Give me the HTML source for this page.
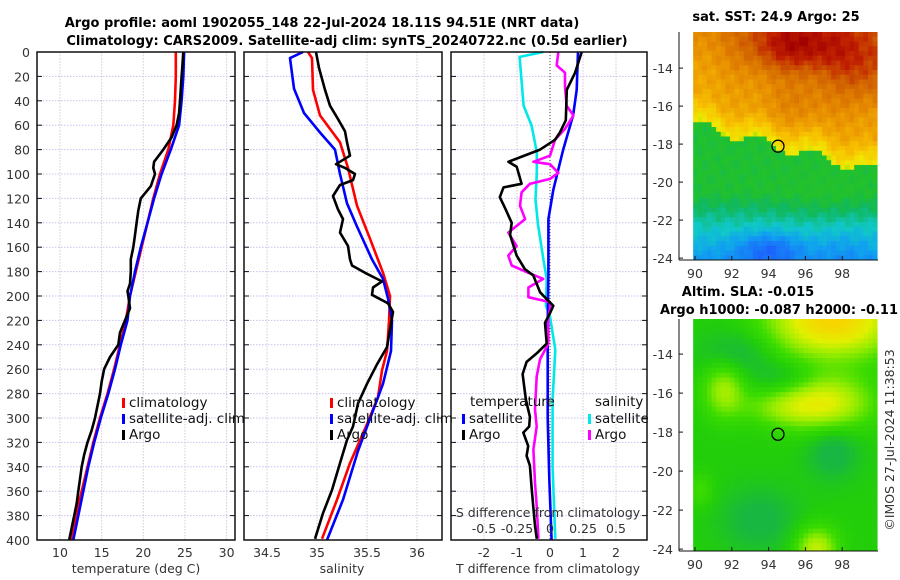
<!DOCTYPE html>
<html><head><meta charset="utf-8"><title>Argo profile</title>
<style>
html,body{margin:0;padding:0;background:#fff;}
svg{display:block;font-family:"DejaVu Sans","Liberation Sans",sans-serif;}
.tk{font-size:12.5px;fill:#333;}
.tt{font-size:13px;font-weight:bold;fill:#000;}
.lg{font-size:13.5px;fill:#111;}
</style></head>
<body>
<svg id="fig" width="900" height="580" viewBox="0 0 900 580">
<rect width="900" height="580" fill="#fff"/>
<g id="grid"></g><g id="series"></g><g id="axes"></g><g id="maps"></g><g id="labels"></g>
</svg>
<script>
// ---------- data ----------
const pClimT = [0,20,40,60,80,100,120,140,160,180,200,220,240,260,280,300,320,340,360,380,400];
const tClim = [23.9,23.9,23.8,23.6,23.0,22.0,21.2,20.5,19.8,19.1,18.4,17.9,17.2,16.5,15.7,14.8,14.0,13.3,12.6,11.9,11.3];
const tSat  = [24.9,24.8,24.6,24.3,23.3,22.2,21.3,20.5,19.7,19.0,18.4,18.1,17.3,16.6,15.8,14.9,14.1,13.4,12.8,12.2,11.6];
const pArgoT = [0,10,20,30,40,50,60,70,80,90,95,100,110,120,130,140,150,160,170,180,190,196,200,210,220,230,240,250,260,270,280,290,300,310,320,330,340,350,360,370,380,390,400];
const tArgo = [24.8,24.7,24.6,24.5,24.4,24.3,24.0,23.4,22.4,21.3,21.2,21.4,20.9,19.7,19.4,19.2,19.0,18.8,18.5,18.5,18.4,18.1,18.2,18.4,17.8,17.2,17.0,16.0,15.3,15.0,14.8,14.5,14.2,13.8,13.3,12.9,12.6,12.4,12.2,12.0,11.7,11.4,11.1];

const pClimS = [0,5,31,52,74,95,126,153,181,200,221,245,261,283,305,337,367,399];
const sClim = [34.91,34.95,34.96,35.03,35.23,35.31,35.40,35.53,35.66,35.73,35.72,35.70,35.65,35.61,35.50,35.33,35.20,35.05];
const pSatS = [0,5,30,50,66,80,100,124,143,170,186,202,220,245,272,294,327,367,400];
const sSat = [34.86,34.73,34.77,34.87,35.03,35.18,35.23,35.30,35.40,35.55,35.66,35.71,35.75,35.74,35.66,35.56,35.41,35.26,35.10];
const pArgoS = [0,13,31,44,55,65,74,85,92,95,100,105,109,118,129,137,148,159,170,175,181,188,193,199,206,213,242,256,272,288,307,318,337,359,378,399];
const sArgo = [34.99,35.02,35.08,35.13,35.21,35.28,35.30,35.33,35.19,35.28,35.38,35.36,35.23,35.16,35.21,35.26,35.23,35.31,35.33,35.35,35.48,35.65,35.56,35.55,35.71,35.76,35.70,35.60,35.50,35.41,35.36,35.30,35.23,35.15,35.06,34.98];

const pDTsat = [0,31,52,80,113,137,181,222,260,300,350,400];
const dTsat = [0.85,0.81,0.70,0.40,0.10,-0.05,-0.05,-0.07,-0.07,-0.07,-0.02,0.05];
const pDTargo = [0,17,31,56,66,72,80,90,94,108,111,119,128,140,150,167,178,183,197,208,214,222,239,247,254,264,285,299,307,312,323,331,339,356,372,389,399];
const dTargo = [0.96,0.76,0.51,0.48,0.30,0.15,-0.30,-1.26,-1.01,-0.86,-1.41,-1.52,-1.36,-1.16,-1.21,-1.01,-0.76,-0.51,-0.30,0.10,0.00,-0.15,-0.10,-0.40,-0.71,-0.83,-0.73,-0.61,-0.63,-0.81,-0.66,-0.71,-0.61,-0.56,-0.51,-0.45,-0.40];
const pDSsat = [0,4,44,60,82,99,121,142,170,186,208,217,244,285,340,399];
const dSsat = [-0.05,-0.23,-0.20,-0.14,-0.10,-0.10,-0.11,-0.09,-0.05,-0.025,-0.03,0.0,0.04,0.02,0.02,0.04];
const pDSargo = [0,11,17,28,44,52,63,72,85,90,92,99,104,108,115,126,137,148,159,167,175,181,186,193,201,205,211,217,239,252,266,293,307,326,353,372,399];
const dSargo = [0.063,0.051,0.114,0.114,0.126,0.177,0.114,0.038,0,-0.126,0,0.063,0,-0.152,-0.215,-0.227,-0.189,-0.316,-0.253,-0.316,-0.290,-0.164,-0.051,-0.164,-0.164,0,0,-0.013,-0.013,-0.076,-0.101,-0.114,-0.101,-0.126,-0.114,-0.101,-0.088];

const pTicks = [0,20,40,60,80,100,120,140,160,180,200,220,240,260,280,300,320,340,360,380,400];
const tTicks = [10,15,20,25,30];
const sTicks = [34.5,35,35.5,36];
const sTickLabels = ["34.5","35","35.5","36"];
const dTTicks = [-2,-1,0,1,2];
const dSTicks = [-0.5,-0.25,0,0.25,0.5];
const dSTickLabels = ["-0.5","-0.25","0","0.25","0.5"];
const lonTicks = [90,92,94,96,98];
const latTicks = [-14,-16,-18,-20,-22,-24];

// ---------- scales ----------
const yP = p => 52 + p*1.22;
const xT = t => 60 + (t-10)*8.33;
const xS = s => 267 + (s-34.5)*100;
const xDT = d => 550 + d*33;
const xDS = d => 550 + d*132;
const NS = "http://www.w3.org/2000/svg";
function mk(tag, attrs, parent){const e=document.createElementNS(NS,tag);for(const k in attrs)e.setAttribute(k,attrs[k]);parent.appendChild(e);return e;}
const G = id => document.getElementById(id);

const panels = [
  {x0:37,x1:235,name:'temperature-panel'},
  {x0:244,x1:442,name:'salinity-panel'},
  {x0:451,x1:647,name:'difference-panel'}
];
panels.forEach((pn,i)=>{
  pTicks.forEach(p=>{
    const l=mk('line',{x1:pn.x0,x2:pn.x1,y1:yP(p),y2:yP(p),stroke:'#c4c4ee','stroke-width':1,'stroke-dasharray':'1.5,1.5'},G('grid'));
    
    
  });
});
function vgrid(xs,fn){xs.forEach(v=>{const x=fn(v);const l=mk('line',{x1:x,x2:x,y1:52,y2:540,stroke:'#dcc4dc','stroke-width':1,'stroke-dasharray':'1.5,1.5'},G('grid'));
  
  });}
vgrid(tTicks,xT); vgrid(sTicks,xS); vgrid(dTTicks,xDT);
const zl=mk('line',{x1:550,x2:550,y1:52,y2:540,stroke:'#4a4a20','stroke-width':1,'stroke-dasharray':'1,2'},G('grid'));



function line(ps,vs,fx,color,name,w){
  const pts=ps.map((p,i)=>fx(vs[i]).toFixed(1)+','+yP(p).toFixed(1)).join(' ');
  const e=mk('polyline',{points:pts,fill:'none',stroke:color,'stroke-width':w||2.6,'stroke-linejoin':'round'},G('series'));
  
  
}
line(pClimT,tClim,xT,'#ff0000','temp-climatology-line');
line(pClimT,tSat,xT,'#0000ff','temp-satellite-line');
line(pArgoT,tArgo,xT,'#000000','temp-argo-line');
line(pClimS,sClim,xS,'#ff0000','sal-climatology-line');
line(pSatS,sSat,xS,'#0000ff','sal-satellite-line');
line(pArgoS,sArgo,xS,'#000000','sal-argo-line');
line(pDSsat,dSsat,xDS,'#00e8e8','sal-diff-satellite-line');
line(pDTsat,dTsat,xDT,'#0000ff','temp-diff-satellite-line');
line(pDSargo,dSargo,xDS,'#ff00ff','sal-diff-argo-line');
line(pDTargo,dTargo,xDT,'#000000','temp-diff-argo-line');

panels.forEach(pn=>{
  const r=mk('rect',{x:pn.x0,y:52,width:pn.x1-pn.x0,height:488,fill:'none',stroke:'#111','stroke-width':1.5},G('axes'));
  
  
  pTicks.forEach(p=>{
    mk('line',{x1:pn.x0,x2:pn.x0+5,y1:yP(p),y2:yP(p),stroke:'#111','stroke-width':1},G('axes'));
    mk('line',{x1:pn.x1-5,x2:pn.x1,y1:yP(p),y2:yP(p),stroke:'#111','stroke-width':1},G('axes'));
  });
});
function txt(x,y,s,cls,name,anchor,extra){
  const e=mk('text',Object.assign({x:x,y:y,class:cls,'text-anchor':anchor||'middle'},extra||{}),G('labels'));
  e.textContent=s;
  
  
  return e;
}
pTicks.forEach(p=>txt(30,yP(p)+5,String(p),'tk','pressure-tick-label','end'));
tTicks.forEach(t=>txt(xT(t),557,String(t),'tk','temp-tick-label'));
sTicks.forEach((s,i)=>txt(xS(s),557,sTickLabels[i],'tk','sal-tick-label'));
dTTicks.forEach(d=>txt(xDT(d),557,String(d),'tk','tdiff-tick-label'));
dSTicks.forEach((d,i)=>txt(xDS(d),533,dSTickLabels[i],'tk','sdiff-tick-label'));
txt(136,573,'temperature (deg C)','tk','temp-axis-title');
txt(342,573,'salinity','tk','sal-axis-title');
txt(548,573,'T difference from climatology','tk','tdiff-axis-title');
txt(548,517,'S difference from climatology','tk','sdiff-axis-title');
txt(322,27,'Argo profile: aoml 1902055_148 22-Jul-2024 18.11S 94.51E (NRT data)','tt','title-line-1');
txt(347,45,'Climatology: CARS2009. Satellite-adj clim: synTS_20240722.nc (0.5d earlier)','tt','title-line-2');

function legItem(x,y,color,label,name){
  const m=mk('rect',{x:x,y:y-9,width:3,height:10,fill:color},G('labels'));
  
  
  txt(x+7,y,label,'lg',name,'start');
}
[[122,'temp'],[330,'sal']].forEach(([x,n])=>{
  legItem(x,407,'#ff0000','climatology',n+'-legend-climatology');
  legItem(x,423,'#0000ff','satellite-adj. clim',n+'-legend-satellite');
  legItem(x,439,'#000000','Argo',n+'-legend-argo');
});
txt(470,406,'temperature','lg','diff-legend-temperature-header','start');
legItem(462,423,'#0000ff','satellite','diff-legend-temp-satellite');
legItem(462,439,'#000000','Argo','diff-legend-temp-argo');
txt(595,406,'salinity','lg','diff-legend-salinity-header','start');
legItem(588,423,'#00e8e8','satellite','diff-legend-sal-satellite');
legItem(588,439,'#ff00ff','Argo','diff-legend-sal-argo');

// ---------- maps ----------
const lonX = lon => 695 + (lon-90)*18.4;
function gauss(dx,dy,sx,sy){return Math.exp(-(dx*dx)/(2*sx*sx)-(dy*dy)/(2*sy*sy));}
function interpColor(stops,v){
  v=Math.max(0,Math.min(1,v));
  for(let i=1;i<stops.length;i++){if(v<=stops[i][0]){const a=stops[i-1],b=stops[i];const f=(v-a[0])/(b[0]-a[0]);
    const c=[0,1,2].map(k=>Math.round(a[1][k]+(b[1][k]-a[1][k])*f));return 'rgb('+c.join(',')+')';}}
  const l=stops[stops.length-1][1];return 'rgb('+l.join(',')+')';
}
const sstStops=[[0,[0,0,192]],[0.15,[32,80,255]],[0.3,[16,160,240]],[0.38,[16,200,200]],[0.45,[16,184,96]],[0.5,[32,192,48]],[0.6,[48,196,32]],[0.63,[160,224,0]],[0.66,[240,232,0]],[0.72,[248,192,0]],[0.8,[232,144,0]],[0.88,[208,96,0]],[0.94,[192,32,0]],[1,[160,0,0]]];
const slaStops=[[0,[16,160,110]],[0.4,[24,184,64]],[0.5,[34,206,10]],[0.6,[60,220,0]],[0.72,[150,236,0]],[0.85,[224,240,0]],[1,[248,212,0]]];
function sst(lon,lat){
  const latB=-17-0.25*(lon-90)+0.3*Math.sin(lon*2.1);
  const t=lat-latB; let v;
  const n=0.012*Math.sin(lon*7.3+lat*3.1)+0.01*Math.cos(lon*4.1-lat*6.7);
  if(t>0){v=0.655+0.07*Math.min(t,1.5)+0.02*Math.max(t-1.5,0)+0.14*gauss(lon-95.5,lat+12.8,2.0,1.0)+0.07*gauss(lon-99,lat+14,1.5,1.2)+0.04*gauss(lon-95.5,lat+16,1.5,0.8)-0.02*gauss(lon-91,lat+13,1.5,1.5);}
  else{v=0.5+ (lat<-20.5?0.06*(lat+20.5):0) -0.12*gauss(lon-94,lat+23.5,1.2,0.6)-0.03*gauss(lon-98,lat+23.5,1,1)+0.02*gauss(lon-97,lat+21,1.5,1);}
  return v+n;
}
function sla(lon,lat){
  let v=0.5;
  v+=0.5*gauss(lon-97.5,lat+12.3,2.4,1.3)+0.35*gauss(lon-97,lat+16.5,1.8,1.0)+0.25*gauss(lon-91.6,lat+15.8,0.8,1.0)
    +0.3*gauss(lon-96.6,lat+24,0.8,0.8)+0.12*gauss(lon-94.5,lat+16.8,1.5,0.6)+0.1*gauss(lon-90.3,lat+21,0.5,0.6);
  v-=0.12*gauss(lon-92.3,lat+14,1.4,0.9)+0.1*gauss(lon-95,lat+15.2,1.2,0.6)+0.14*gauss(lon-97.5,lat+19,1,1)+0.12*gauss(lon-93.5,lat+22.5,1.5,1.2);
  return v;
}
function drawMap(name,yTop,latTop,pxPerLat,fn,stops,lonMark,latMark){
  const g=mk('g',{},G('maps'));
  
  
  const yBot=yTop+(latTop+24.1)*pxPerLat;
  const latY=lat=>yTop+(latTop-lat)*pxPerLat;
  mk('rect',{x:679,y:yTop,width:199,height:yBot-yTop,fill:'#fff'},g);
  const d=0.25;
  for(let lon=89.9;lon<99.85;lon+=d){
    for(let lat=latTop;lat>-24.1;lat-=d){
      const x0=lonX(lon),x1=Math.min(lonX(lon+d),878),y0=latY(lat),y1=Math.min(latY(lat-d),yBot);
      mk('rect',{x:x0.toFixed(2),y:y0.toFixed(2),width:(x1-x0+0.4).toFixed(2),height:(y1-y0+0.4).toFixed(2),fill:interpColor(stops,fn(lon+d/2,lat-d/2))},g);
    }
  }
  mk('line',{x1:679,x2:679,y1:yTop,y2:yBot,stroke:'#111','stroke-width':1},g);
  mk('line',{x1:679,x2:878,y1:yBot,y2:yBot,stroke:'#111','stroke-width':1},g);
  latTicks.forEach(l=>{mk('line',{x1:679,x2:683,y1:latY(l),y2:latY(l),stroke:'#111'},g);txt(673,latY(l)+5,String(l),'tk','lat-tick-label','end');});
  lonTicks.forEach(l=>{mk('line',{x1:lonX(l),x2:lonX(l),y1:yBot,y2:yBot-4,stroke:'#111'},g);txt(lonX(l),yBot+18,String(l),'tk','lon-tick-label');});
  const c=mk('circle',{cx:lonX(lonMark),cy:latY(latMark),r:6,fill:'none',stroke:'#000','stroke-width':1.3},g);
  
  
}
drawMap('sst-map',32,-12.1,19,sst,sstStops,94.51,-18.11);
drawMap('sla-map',319,-12.2,19.5,sla,slaStops,94.51,-18.11);
txt(776,21,'sat. SST: 24.9 Argo: 25','tt','sst-map-title');
txt(748,296,'Altim. SLA: -0.015','tt','sla-map-title-line-1');
txt(779,314,'Argo h1000: -0.087 h2000: -0.11','tt','sla-map-title-line-2');
txt(0,0,'©IMOS 27-Jul-2024 11:38:53','tk','timestamp-credit','middle',{transform:'translate(894,440) rotate(-90)'});
</script>
</body></html>
